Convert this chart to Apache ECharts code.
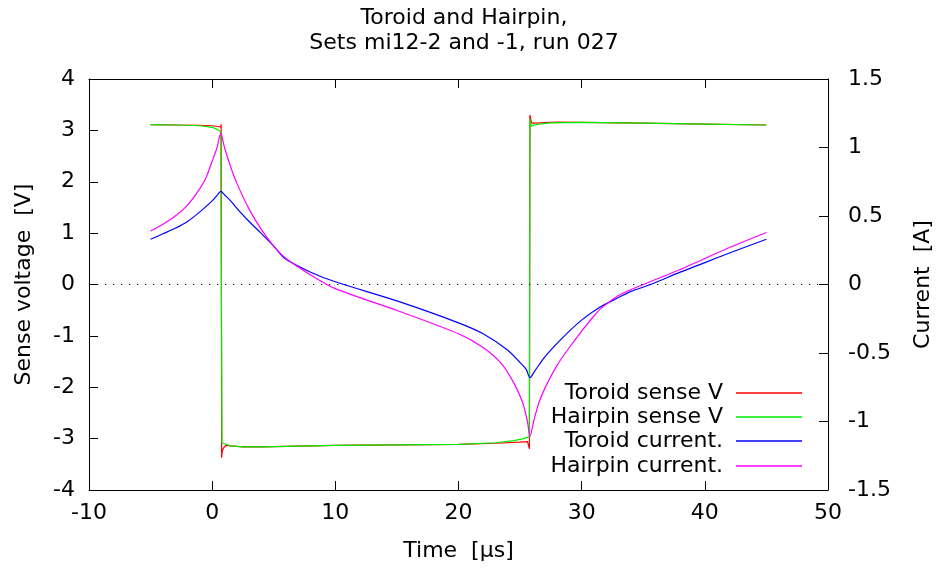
<!DOCTYPE html>
<html>
<head>
<meta charset="utf-8">
<title>Toroid and Hairpin</title>
<script src="https://cdn.jsdelivr.net/npm/echarts@6/dist/echarts.min.js"></script>
<style>
  html, body { margin: 0; padding: 0; background: #fff; }
  #chart { width: 938px; height: 569px; }
</style>
</head>
<body>
<div id="chart"></div>
<script>
// time in µs, voltages in V (left axis)
var toroidVTime = [-5, -3, -1, 0, 0.5, 0.7, 0.73, 0.75, 0.77, 0.82, 0.9, 1.1, 1.5, 2.5, 4, 6, 10, 15, 20, 23, 25, 25.6, 25.72, 25.76, 25.8, 25.86, 25.95, 26.3, 27, 28, 30, 35, 40, 45];
var toroidV = [3.11, 3.105, 3.10, 3.09, 3.075, 3.06, 3.12, 3.13, -3.37, -3.25, -3.19, -3.13, -3.14, -3.16, -3.16, -3.15, -3.13, -3.12, -3.11, -3.09, -3.07, -3.06, -3.07, -3.2, 3.30, 3.22, 3.14, 3.14, 3.15, 3.16, 3.155, 3.14, 3.12, 3.105];

var hairpinVTime = [-5, -3, -1, 0, 0.4, 0.7, 0.76, 0.8, 0.9, 1.1, 1.5, 2.5, 4, 6, 10, 15, 20, 23, 24.5, 25.3, 25.75, 25.8, 25.9, 26.1, 26.5, 27.5, 30, 35, 40, 45];
var hairpinV = [3.11, 3.105, 3.09, 3.06, 3.02, 2.97, 2.96, -3.08, -3.1, -3.11, -3.14, -3.16, -3.16, -3.15, -3.13, -3.12, -3.11, -3.08, -3.04, -3.0, -2.96, 3.22, 3.08, 3.10, 3.12, 3.145, 3.155, 3.14, 3.12, 3.105];

// currents in A (right axis)
var toroidITime = [-5, -4, -3, -2, -1, 0, 0.4, 0.7, 1.0, 1.5, 2.26, 3, 3.9, 5, 5.9, 8, 10, 15, 20, 22, 24, 25, 25.5, 25.8, 26.2, 27, 28, 29, 30, 31.5, 33, 34, 35.6, 38, 40, 42, 45];
var toroidI = [0.33, 0.37, 0.41, 0.46, 0.53, 0.61, 0.65, 0.68, 0.655, 0.61, 0.53, 0.46, 0.38, 0.28, 0.19, 0.09, 0.02, -0.12, -0.28, -0.36, -0.48, -0.57, -0.62, -0.68, -0.63, -0.53, -0.43, -0.34, -0.26, -0.165, -0.095, -0.05, 0.0, 0.09, 0.16, 0.23, 0.33];

var hairpinITime = [-5, -4, -3, -2, -1, -0.5, 0, 0.4, 0.7, 1.0, 1.5, 2, 3, 4, 5, 6, 8, 10, 15, 20, 22, 23.5, 24.5, 25.2, 25.6, 25.8, 26.1, 26.5, 27, 28, 29, 30, 31, 31.5, 33, 35, 38, 40, 42, 45];
var hairpinI = [0.39, 0.44, 0.50, 0.58, 0.70, 0.78, 0.90, 1.0, 1.105, 1.0, 0.86, 0.74, 0.55, 0.40, 0.28, 0.19, 0.07, -0.03, -0.19, -0.36, -0.46, -0.58, -0.72, -0.86, -1.0, -1.11, -1.0, -0.87, -0.76, -0.59, -0.46, -0.34, -0.23, -0.18, -0.08, 0.0, 0.11, 0.19, 0.27, 0.38];

var seriesNames = ['Toroid sense V', 'Hairpin sense V', 'Toroid current.', 'Hairpin current.'];
var seriesColors = ['#ff0000', '#00ee00', '#0000ff', '#ff00ff'];

function pairs(t, v) {
  return t.map(function (x, i) { return [x, v[i]]; });
}

var font = 'DejaVu Sans';
var fs = 22;
var chart = echarts.init(document.getElementById('chart'));

// one legend per entry so text is right-aligned like gnuplot's key
var legendTops = [382, 406, 430, 455];
var legends = seriesNames.map(function (name, i) {
  return {
    data: [name],
    right: 136,
    top: legendTops[i],
    align: 'right',
    icon: 'rect',
    itemWidth: 66,
    itemHeight: 1.3,
    padding: 0,
    selectedMode: false,
    textStyle: { fontFamily: font, fontSize: fs, color: '#000', padding: [0, 8, 0, 0] }
  };
});

var axisCommon = {
  axisLine: { show: true, onZero: false, lineStyle: { color: '#000', width: 1 } },
  axisTick: { show: true, inside: true, length: 9, lineStyle: { color: '#000' } },
  splitLine: { show: false },
  axisLabel: { fontFamily: font, fontSize: fs, color: '#000' },
  nameTextStyle: { fontFamily: font, fontSize: fs, color: '#000' }
};

chart.setOption({
  animation: false,
  backgroundColor: '#fff',
  title: {
    text: 'Toroid and Hairpin,\nSets mi12-2 and -1, run 027',
    left: 459,
    textAlign: 'center',
    top: 1,
    textStyle: { fontFamily: font, fontSize: fs, fontWeight: 'normal', color: '#000', lineHeight: 25 }
  },
  legend: legends,
  grid: { left: 89, right: 110, top: 79, bottom: 79, outerBoundsMode: 'none', containLabel: false },
  xAxis: [
    Object.assign({}, axisCommon, {
      type: 'value', min: -10, max: 50, interval: 10,
      name: 'Time  [µs]', nameLocation: 'middle', nameGap: 50,
      axisLabel: Object.assign({}, axisCommon.axisLabel, { margin: 12 })
    }),
    Object.assign({}, axisCommon, {
      type: 'value', min: -10, max: 50, interval: 10, position: 'top',
      axisLabel: { show: false }
    })
  ],
  yAxis: [
    Object.assign({}, axisCommon, {
      type: 'value', min: -4, max: 4, interval: 1,
      name: 'Sense voltage  [V]', nameLocation: 'middle', nameGap: 54,
      axisLabel: Object.assign({}, axisCommon.axisLabel, { margin: 14 })
    }),
    Object.assign({}, axisCommon, {
      type: 'value', min: -1.5, max: 1.5, interval: 0.5, position: 'right',
      name: 'Current  [A]', nameLocation: 'middle', nameGap: 84,
      axisLabel: Object.assign({}, axisCommon.axisLabel, { margin: 20 })
    })
  ],
  series: [
    {
      name: seriesNames[0], type: 'line', yAxisIndex: 0, data: pairs(toroidVTime, toroidV),
      showSymbol: false, color: seriesColors[0], lineStyle: { width: 1.2 },
      markLine: {
        silent: true, symbol: 'none', label: { show: false },
        lineStyle: { color: '#000', width: 1.2, type: [1.2, 6.8] },
        data: [{ yAxis: 0 }]
      }
    },
    {
      name: seriesNames[1], type: 'line', yAxisIndex: 0, data: pairs(hairpinVTime, hairpinV),
      showSymbol: false, color: seriesColors[1], lineStyle: { width: 1.2 }
    },
    {
      name: seriesNames[2], type: 'line', yAxisIndex: 1, data: pairs(toroidITime, toroidI),
      showSymbol: false, smooth: 0.3, color: seriesColors[2], lineStyle: { width: 1.2 }
    },
    {
      name: seriesNames[3], type: 'line', yAxisIndex: 1, data: pairs(hairpinITime, hairpinI),
      showSymbol: false, smooth: 0.3, color: seriesColors[3], lineStyle: { width: 1.2 }
    }
  ]
});
</script>
</body>
</html>
